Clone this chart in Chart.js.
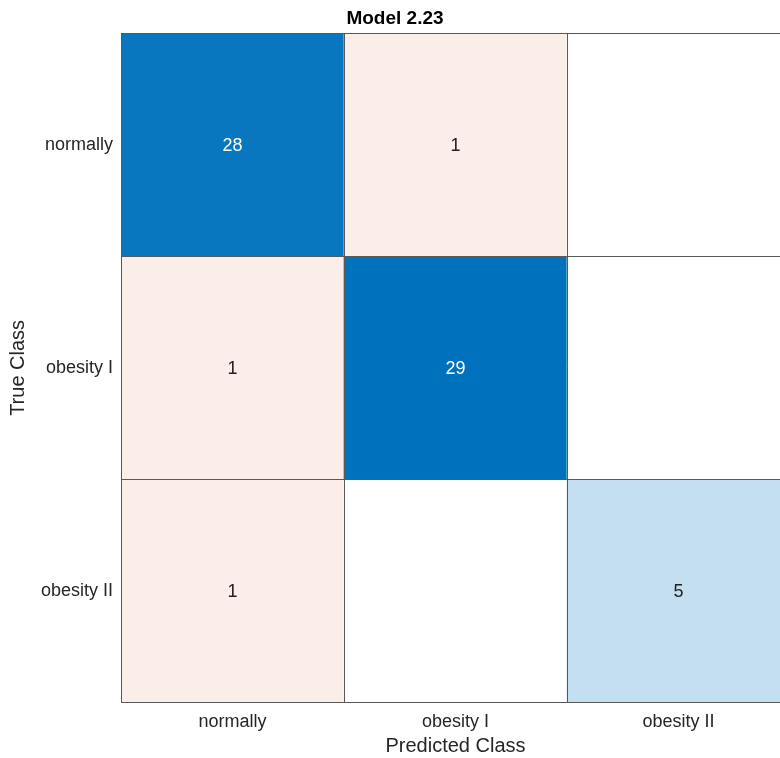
<!DOCTYPE html>
<html>
<head>
<meta charset="utf-8">
<script src="https://cdn.jsdelivr.net/npm/chart.js@4"></script>
<style>
  html, body { margin: 0; padding: 0; background: #fff; overflow: hidden; }
  #wrap { width: 790px; height: 758px; }
</style>
</head>
<body>
<div id="wrap"><canvas id="cm"></canvas></div>
<script>
// confusion matrix data (rows = true class, columns = predicted class)
var CLASSES = ["normally", "obesity I", "obesity II"];
var ROW_NORMALLY = [28, 1, 0];
var ROW_OBESITY1 = [1, 29, 0];
var ROW_OBESITY2 = [1, 0, 5];
var ROWS = [ROW_NORMALLY, ROW_OBESITY1, ROW_OBESITY2];
var TITLE = "Model 2.23";

var BLUE = [0, 114, 189];
var ORANGE = [217, 83, 25];
var FONT = '"Liberation Sans", Arial, sans-serif';
var LINE = "#595959";
var maxVal = Math.max.apply(null, ROWS.map(function (r) { return Math.max.apply(null, r); }));

// colour of a cell: blue on the diagonal, pale orange off it, white when zero
function cellColor(r, c, v) {
  if (!v) return "#ffffff";
  var base = r === c ? BLUE : ORANGE;
  var t = 0.07 + 0.93 * v / maxVal;
  var rgb = base.map(function (b) { return Math.round(255 - (255 - b) * t); });
  return "rgb(" + rgb.join(",") + ")";
}

var datasets = ROWS.map(function (row, r) {
  return {
    label: CLASSES[r],
    data: row.map(function () { return [r, r + 1]; }),
    counts: row,
    backgroundColor: row.map(function (v, c) { return cellColor(r, c, v); }),
    borderWidth: 0,
    barPercentage: 1,
    categoryPercentage: 1,
    grouped: false
  };
});

// writes the count in the middle of each non-zero cell
var cellText = {
  id: "cellText",
  afterDatasetsDraw: function (chart) {
    var ctx = chart.ctx;
    ctx.save();
    ctx.font = "18px " + FONT;
    ctx.textAlign = "center";
    ctx.textBaseline = "middle";
    chart.data.datasets.forEach(function (ds, r) {
      var meta = chart.getDatasetMeta(r);
      meta.data.forEach(function (bar, c) {
        var v = ds.counts[c];
        if (!v) return;
        var cy = (bar.y + bar.base) / 2;
        ctx.fillStyle = (r === c && v / maxVal > 0.5) ? "#ffffff" : "#212121";
        ctx.fillText(String(v), bar.x, cy + 1);
      });
    });
    ctx.restore();
  }
};

new Chart(document.getElementById("cm").getContext("2d"), {
  type: "bar",
  data: { labels: CLASSES, datasets: datasets },
  plugins: [cellText],
  options: {
    responsive: true,
    maintainAspectRatio: false,
    animation: false,
    layout: { padding: 0 },
    plugins: {
      legend: { display: false },
      tooltip: { enabled: false },
      title: {
        display: true,
        text: TITLE,
        color: "#000000",
        font: { family: FONT, size: 19, weight: "bold" },
        padding: { top: 7, bottom: 4 }
      }
    },
    scales: {
      x: {
        type: "category",
        offset: true,
        afterFit: function (s) { s.height = 56; },
        grid: { offset: true, color: LINE, lineWidth: 1, drawTicks: false, z: 1 },
        border: { display: true, color: LINE, width: 1, z: 1 },
        ticks: {
          color: "#262626",
          padding: 9,
          font: { family: FONT, size: 18 }
        },
        title: {
          display: true,
          text: "Predicted Class",
          color: "#262626",
          font: { family: FONT, size: 20 },
          padding: { top: 0, bottom: 0 }
        }
      },
      y: {
        type: "linear",
        min: 0,
        max: 3,
        reverse: true,
        afterFit: function (s) { s.width = 121; },
        grid: {
          drawTicks: false,
          lineWidth: 1,
          z: 1,
          color: function (c) {
            return c.tick && c.tick.value % 1 === 0 ? LINE : "rgba(0,0,0,0)";
          }
        },
        border: { display: true, color: LINE, width: 1, z: 1 },
        ticks: {
          stepSize: 0.5,
          autoSkip: false,
          color: "#262626",
          padding: 8,
          font: { family: FONT, size: 18 },
          callback: function (v) {
            return v % 1 === 0 ? "" : CLASSES[Math.floor(v)];
          }
        },
        title: {
          display: true,
          text: "True Class",
          color: "#262626",
          font: { family: FONT, size: 20 },
          padding: { top: 6, bottom: 0 }
        }
      }
    }
  }
});
</script>
</body>
</html>
